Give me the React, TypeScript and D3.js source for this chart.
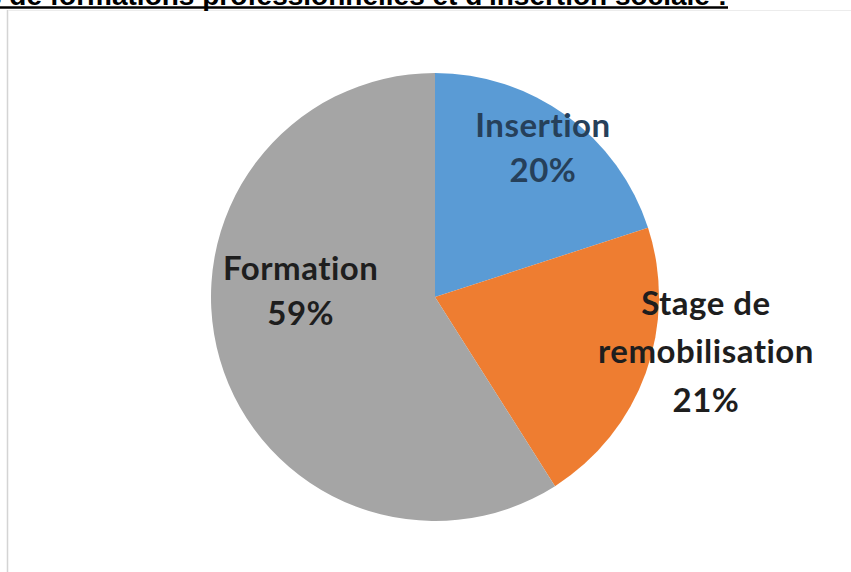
import { useEffect, useRef } from "react"
import * as d3 from "d3"

// chart data
const categories = ["Insertion", "Stage de remobilisation", "Formation"]
const values = [20, 21, 59]
const labelLines = [["Insertion", "20%"], ["Stage de", "remobilisation", "21%"], ["Formation", "59%"]]
const colors = ["#5A9BD5", "#EE7D31", "#A5A5A5"]
const textColors = ["#26405a", "#1e1e1e", "#1e1e1e"]
// best-fit label placement (radius factor, angle shift in degrees, line height) like Excel
const labelPlacement = [
  { r: 0.82, shift: 0, lh: 45 },
  { r: 1.234, shift: -8.4, lh: 48.5 },
  { r: 0.6, shift: 18.8, lh: 45 },
]

const W = 851
const H = 572

export default function App() {
  const svgRef = useRef<SVGSVGElement>(null)

  useEffect(() => {
    if (!svgRef.current) return
    const svg = d3.select(svgRef.current)
    svg.selectAll("*").remove()

    // page frame
    svg.append("line").attr("x1", 7.5).attr("x2", 7.5).attr("y1", 10).attr("y2", H)
      .attr("stroke", "#d4d4d4").attr("stroke-width", 1.5)
    svg.append("line").attr("x1", 8).attr("x2", W).attr("y1", 10.5).attr("y2", 10.5)
      .attr("stroke", "#ececec").attr("stroke-width", 1)

    // title, cut at the top of the picture
    svg.append("text")
      .attr("x", 727).attr("y", 5)
      .attr("text-anchor", "end")
      .attr("font-family", "Liberation Sans, Arial, sans-serif")
      .attr("font-weight", "bold")
      .attr("font-size", 28)
      .attr("fill", "#000")
      .text("Répartition des actions de formations professionnelles et d'insertion sociale :")
    svg.append("line").attr("x1", 0).attr("x2", 728).attr("y1", 7.5).attr("y2", 7.5)
      .attr("stroke", "#000").attr("stroke-width", 2.5)

    const cx = 435
    const cy = 297
    const radius = 224

    const data = categories.map((c, i) => ({ name: c, value: values[i], i }))
    const pie = d3.pie<any>().sort(null).value((d: any) => d.value)
    const arcs = pie(data)
    const arc = d3.arc<any>().innerRadius(0).outerRadius(radius)

    const g = svg.append("g").attr("transform", `translate(${cx},${cy})`)

    g.selectAll("path.slice")
      .data(arcs)
      .enter()
      .append("path")
      .attr("class", "slice")
      .attr("d", arc as any)
      .attr("fill", (d: any) => colors[d.data.i])
      .attr("stroke", "none")

    arcs.forEach((a: any) => {
      const p = labelPlacement[a.data.i]
      const mid = (a.startAngle + a.endAngle) / 2 + (p.shift * Math.PI) / 180
      const lx = Math.sin(mid) * radius * p.r
      const ly = -Math.cos(mid) * radius * p.r
      const lines = labelLines[a.data.i]
      const t = g.append("text")
        .attr("text-anchor", "middle")
        .attr("font-family", "Lato, 'Open Sans', sans-serif")
        .attr("font-weight", "bold")
        .attr("font-size", 33)
        .attr("letter-spacing", 0.5)
        .attr("fill", textColors[a.data.i])
      lines.forEach((ln, k) => {
        t.append("tspan")
          .attr("x", lx)
          .attr("y", ly + (k - (lines.length - 1) / 2) * p.lh)
          .attr("dy", "0.35em")
          .text(ln)
      })
    })
  }, [])

  return (
    <svg ref={svgRef} width={W} height={H}
      style={{ position: "absolute", left: 0, top: 0, background: "#fff" }} />
  )
}
